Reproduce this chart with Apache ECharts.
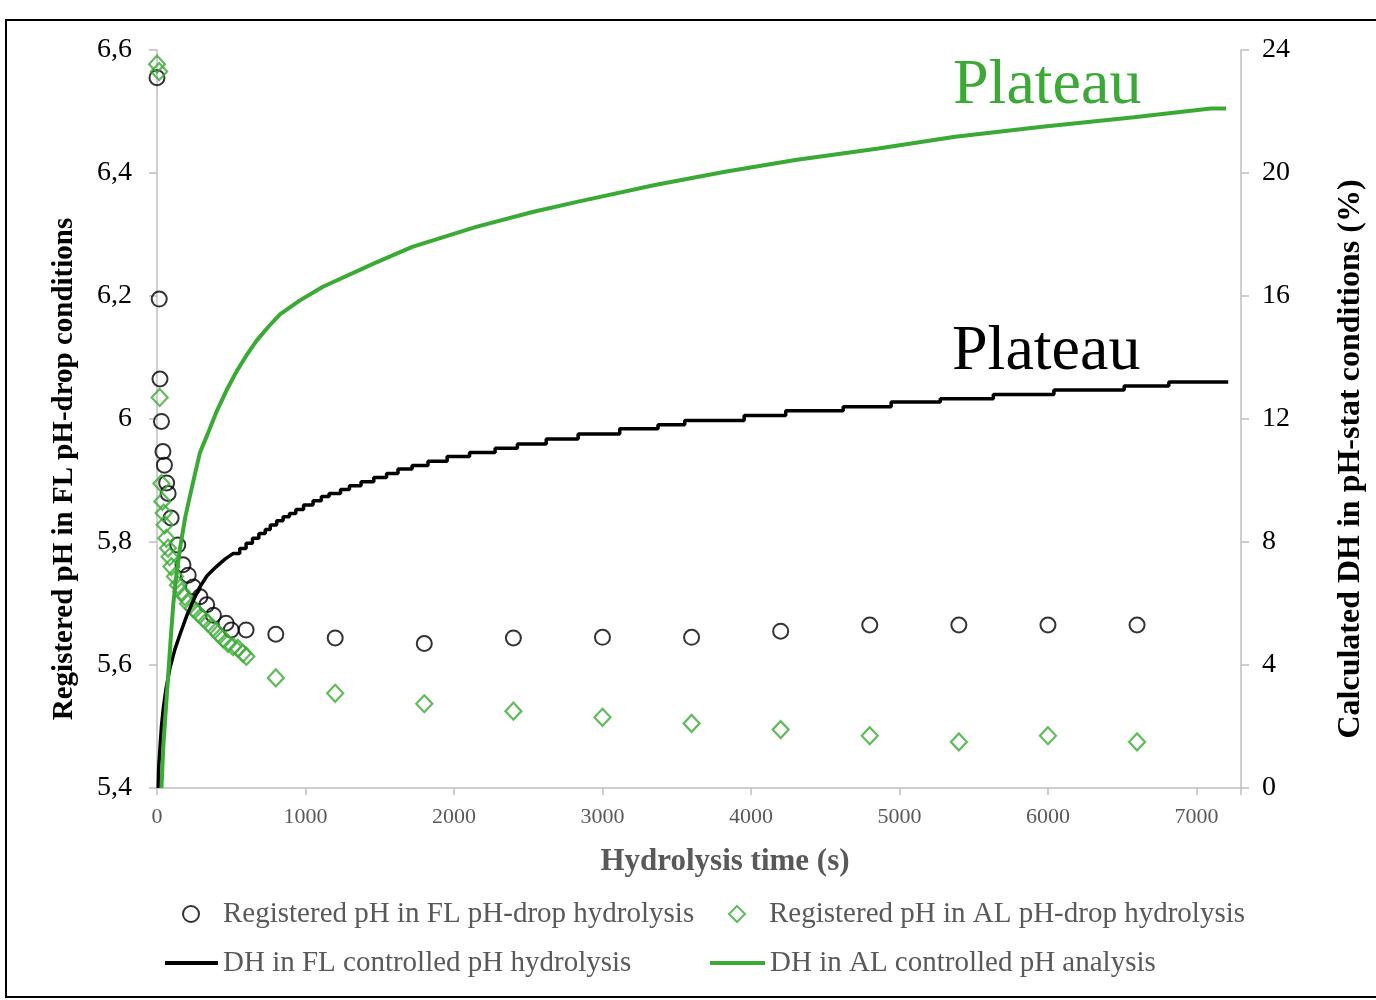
<!DOCTYPE html>
<html>
<head>
<meta charset="utf-8">
<script src="https://cdn.jsdelivr.net/npm/echarts@6/dist/echarts.min.js"></script>
<style>
html,body{margin:0;padding:0;background:#fff;}
#c{width:1376px;height:1000px;}
</style>
</head>
<body>
<div id="c"></div>
<script>
// ---- data ----
// Registered pH, FL pH-drop hydrolysis (circles)
var flTime = [0,15,20,30,40,50,65,75,95,140,175,210,245,290,335,380,465,500,600,800,1200,1800,2400,3000,3600,4200,4800,5400,6000,6600];
var flPH   = [6.555,6.195,6.065,5.996,5.947,5.925,5.896,5.879,5.839,5.795,5.763,5.746,5.727,5.711,5.698,5.681,5.668,5.657,5.657,5.650,5.644,5.635,5.644,5.645,5.645,5.655,5.665,5.665,5.665,5.665];
// Registered pH, AL pH-drop hydrolysis (diamonds)
var alTime = [0,14,18,30,36,45,52,63,74,85,97,121,141,164,188,209,242,276,310,343,377,411,444,478,512,545,579,602,800,1200,1800,2400,3000,3600,4200,4800,5400,6000,6600];
var alPH   = [6.577,6.565,6.035,5.895,5.866,5.847,5.828,5.806,5.790,5.776,5.760,5.744,5.730,5.719,5.711,5.700,5.692,5.684,5.676,5.668,5.660,5.651,5.643,5.635,5.630,5.627,5.619,5.614,5.579,5.554,5.537,5.525,5.515,5.505,5.495,5.485,5.475,5.485,5.475];
// DH, FL controlled pH hydrolysis (black, stepped after stepFrom)
var dhFlTime = [8,12,20,30,43,60,87,120,155,200,245,290,337,400,460,514,557,600,643,686,729,763,806,849,892,935,987,1051,1107,1159,1236,1296,1374,1460,1546,1623,1718,1825,1954,2105,2277,2427,2621,2836,3116,3374,3554,3954,4234,4621,4944,5275,5632,6040,6513,6814,7214];
var dhFl     = [0,0.7,1.3,2.0,2.6,3.2,3.9,4.5,5.0,5.6,6.1,6.55,6.9,7.2,7.45,7.63,7.79,7.96,8.12,8.28,8.41,8.55,8.69,8.82,8.93,9.06,9.20,9.34,9.48,9.58,9.71,9.83,9.96,10.10,10.23,10.37,10.49,10.63,10.78,10.91,11.05,11.19,11.35,11.51,11.68,11.81,11.95,12.11,12.27,12.40,12.55,12.66,12.80,12.94,13.07,13.20,13.20];
var stepFrom = 557;
// DH, AL controlled pH analysis (green)
var dhAlTime = [30,43,60,76,93,110,130,155,190,222,255,289,340,402,470,536,600,671,750,828,960,1117,1462,1719,2149,2536,2837,3353,3826,4299,4858,5375,5977,6580,7096,7200];
var dhAl     = [0,1.4,2.6,3.7,4.9,6.0,6.9,7.8,8.8,9.5,10.2,10.9,11.5,12.25,12.95,13.55,14.05,14.55,15.0,15.4,15.85,16.3,17.06,17.6,18.25,18.74,19.07,19.61,20.04,20.42,20.8,21.18,21.51,21.81,22.1,22.1];

var names = [
  'Registered pH in FL pH-drop hydrolysis',
  'Registered pH in AL pH-drop hydrolysis',
  'DH in FL controlled pH hydrolysis',
  'DH in AL controlled pH analysis'
];
var annotation = 'Plateau';

function pairs(xs, ys){ return xs.map(function(x,i){ return [x, ys[i]]; }); }
function stepped(xs, ys, from){
  var out = [];
  for (var i=0;i<xs.length;i++){
    if (i>0 && xs[i] >= from && ys[i] !== ys[i-1]) out.push([xs[i], ys[i-1]]);
    out.push([xs[i], ys[i]]);
  }
  return out;
}

var GREEN = '#3aaa35';
var SERIF = '"Liberation Serif","Times New Roman",serif';
var GREY = '#595959';
var AXIS = '#bfbfbf';

var chart = echarts.init(document.getElementById('c'), null, {renderer:'canvas'});
var legendText = {fontFamily:SERIF, fontSize:29, color:GREY, lineHeight:32};
chart.setOption({
  animation:false,
  backgroundColor:'#fff',
  grid:{left:157, right:135, top:50, bottom:212, containLabel:false},
  xAxis:{
    type:'value', min:0, max:7300, interval:1000,
    axisLine:{lineStyle:{color:AXIS, width:1.5}},
    axisTick:{show:true, length:7, lineStyle:{color:AXIS, width:1.5}},
    splitLine:{show:false},
    axisLabel:{color:GREY, fontFamily:SERIF, fontSize:22, margin:18,
      formatter:function(v){ return v % 1000 === 0 ? String(v) : ''; }},
    name:'Hydrolysis time (s)', nameLocation:'middle', nameGap:58,
    nameTextStyle:{fontFamily:SERIF, fontSize:31, fontWeight:'bold', color:GREY, padding:[0,0,0,52]}
  },
  yAxis:[{
    type:'value', min:5.4, max:6.6, interval:0.2, position:'left',
    axisLine:{show:true, lineStyle:{color:AXIS, width:1.5}},
    axisTick:{show:true, length:8, lineStyle:{color:AXIS, width:1.5}},
    splitLine:{show:false},
    axisLabel:{color:'#000', fontFamily:SERIF, fontSize:28, margin:25,
      formatter:function(v){ return String(Math.round(v*10)/10).replace('.', ','); }},
    name:'Registered pH in FL pH-drop conditions', nameLocation:'middle', nameGap:78, nameRotate:90,
    nameTextStyle:{fontFamily:SERIF, fontSize:29, fontWeight:'bold', color:'#000', padding:[0,100,0,0]}
  },{
    type:'value', min:0, max:24, interval:4, position:'right',
    axisLine:{show:true, lineStyle:{color:AXIS, width:1.5}},
    axisTick:{show:true, length:8, lineStyle:{color:AXIS, width:1.5}},
    splitLine:{show:false},
    axisLabel:{color:'#000', fontFamily:SERIF, fontSize:28, margin:21},
    name:'Calculated DH in pH-stat conditions (%)', nameLocation:'middle', nameGap:94, nameRotate:90,
    nameTextStyle:{fontFamily:SERIF, fontSize:32, fontWeight:'bold', color:'#000', padding:[0,80,0,0]}
  }],
  legend:[
    {data:[names[0]], left:177, top:893, itemWidth:16, itemHeight:16, textStyle:Object.assign({padding:[0,0,0,19]}, legendText)},
    {data:[names[1]], left:723, top:893, itemWidth:16, itemHeight:16, textStyle:Object.assign({padding:[0,0,0,19]}, legendText)},
    {data:[{name:names[2], icon:'rect'}], left:160, top:942, itemWidth:53, itemHeight:4, textStyle:legendText},
    {data:[{name:names[3], icon:'rect'}], left:705, top:942, itemWidth:55, itemHeight:4, textStyle:legendText}
  ],
  series:[
    {name:names[0], type:'scatter', yAxisIndex:0, data:pairs(flTime, flPH),
     symbol:'circle', symbolSize:15,
     itemStyle:{color:'rgba(255,255,255,0)', borderColor:'#000', borderWidth:2}, z:2},
    {name:names[1], type:'scatter', yAxisIndex:0, data:pairs(alTime, alPH),
     symbol:'diamond', symbolSize:[16,17],
     itemStyle:{color:'rgba(255,255,255,0)', borderColor:GREEN, borderWidth:2.2}, z:3},
    {name:names[2], type:'line', yAxisIndex:1, data:stepped(dhFlTime, dhFl, stepFrom),
     symbol:'none', lineStyle:{color:'#000', width:3.5}, itemStyle:{color:'#000'}, z:4},
    {name:names[3], type:'line', yAxisIndex:1, data:pairs(dhAlTime, dhAl),
     symbol:'none', lineStyle:{color:GREEN, width:4}, itemStyle:{color:GREEN}, z:5}
  ],
  graphic:[
    {type:'rect', shape:{x:6, y:20, width:1380, height:977}, style:{fill:null, stroke:'#000', lineWidth:2}, silent:true},
    {type:'text', x:953, y:86, style:{text:annotation, fill:GREEN, font:'64px '+SERIF, textVerticalAlign:'middle'}},
    {type:'text', x:952, y:352, style:{text:annotation, fill:'#000', font:'64px '+SERIF, textVerticalAlign:'middle'}}
  ]
});
</script>
</body>
</html>
